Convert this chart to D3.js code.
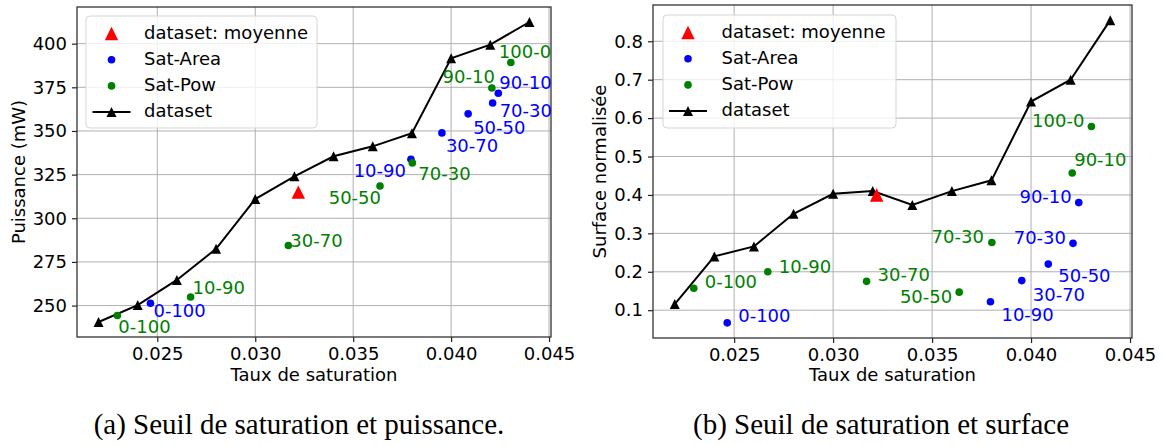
<!DOCTYPE html>
<html>
<head>
<meta charset="utf-8">
<script src="https://cdn.jsdelivr.net/npm/d3@7"></script>
<style>
  html, body { margin: 0; padding: 0; background: #fff; }
  svg { display: block; }
  text { font-family: "DejaVu Sans", sans-serif; }
  text.caption { font-family: "Liberation Serif", "Times New Roman", serif; }
</style>
</head>
<body>
<svg id="chart" width="1163" height="446"></svg>
<script>
// ---------------- DATA ----------------
const datasetX = [0.022, 0.024, 0.026, 0.028, 0.030, 0.032, 0.034, 0.036, 0.038, 0.040, 0.042, 0.044];
const datasetPower = [240.6, 250.3, 264.7, 282.5, 311.0, 324.0, 335.5, 341.2, 348.7, 391.6, 399.4, 412.4];
const datasetSurface = [0.116, 0.240, 0.266, 0.351, 0.403, 0.410, 0.374, 0.410, 0.438, 0.643, 0.700, 0.855];

const meanX = [0.0322];
const meanPower = [315.0];
const meanSurface = [0.400];

const satAreaLabels = ["0-100", "10-90", "30-70", "50-50", "70-30", "90-10"];
const satAreaX = [0.02465, 0.03795, 0.03953, 0.04087, 0.04212, 0.04241];
const satAreaPower = [251.3, 333.8, 348.9, 359.8, 366.0, 371.6];
const satAreaSurface = [0.067, 0.122, 0.177, 0.220, 0.274, 0.380];

const satPowLabels = ["0-100", "10-90", "30-70", "50-50", "70-30", "90-10", "100-0"];
const satPowX = [0.02296, 0.02670, 0.03169, 0.03637, 0.03802, 0.04208, 0.04305];
const satPowPower = [244.3, 254.9, 284.4, 318.5, 331.7, 374.6, 389.2];
const satPowSurface = [0.157, 0.200, 0.175, 0.147, 0.276, 0.457, 0.578];

const xTicks = [0.025, 0.030, 0.035, 0.040, 0.045];
const powerTicks = [250, 275, 300, 325, 350, 375, 400];
const surfaceTicks = [0.1, 0.2, 0.3, 0.4, 0.5, 0.6, 0.7, 0.8];

const legendLabels = ["dataset: moyenne", "Sat-Area", "Sat-Pow", "dataset"];

// label placement (pixel offsets, [dx, dy, anchor])
const powerAreaLabelPos = [[3, 14, "start"], [-5, 18, "end"], [4, 19, "start"], [5, 20, "start"], [7, 14, "start"], [1, -4, "start"]];
const powerPowLabelPos = [[1, 17, "start"], [2, -3, "start"], [2, 1, "start"], [1, 18, "end"], [6, 17, "start"], [3, -5, "end"], [-12, -5, "start"]];
const surfAreaLabelPos = [[11, -1, "start"], [11, 19, "start"], [11, 20, "start"], [10, 18, "start"], [-7, 1, "end"], [-7, 0, "end"]];
const surfPowLabelPos = [[11, 0, "start"], [11, 1, "start"], [11, 0, "start"], [-7, 11, "end"], [-8, 0, "end"], [2, -7, "start"], [-7, 0, "end"]];

// ---------------- DRAW ----------------
const svg = d3.select("#chart");
const FS = 18;
const BLUE = "#0000ff", GREEN = "#008000", RED = "#ff0000";

function tri(s) { return `M0,${-s}L${s},${s}L${-s},${s}Z`; }

function pad(vals) {
  const [a, b] = d3.extent(vals);
  const m = (b - a) * 0.05;
  return [a - m, b + m];
}

function panel(cfg) {
  const g = svg.append("g");
  const x = d3.scaleLinear().domain(pad([...datasetX, ...satAreaX, ...satPowX, ...meanX])).range([cfg.left, cfg.right]);
  const y = d3.scaleLinear().domain(pad([...cfg.ds, ...cfg.area, ...cfg.pow, ...cfg.mean])).range([cfg.bottom, cfg.top]);

  // grid
  g.append("g").selectAll("line").data(cfg.xt).join("line")
    .attr("x1", d => x(d)).attr("x2", d => x(d)).attr("y1", cfg.top).attr("y2", cfg.bottom)
    .attr("stroke", "#b0b0b0").attr("stroke-width", 1);
  g.append("g").selectAll("line").data(cfg.yt).join("line")
    .attr("y1", d => y(d)).attr("y2", d => y(d)).attr("x1", cfg.left).attr("x2", cfg.right)
    .attr("stroke", "#b0b0b0").attr("stroke-width", 1);

  // axes
  const xa = g.append("g").attr("transform", `translate(0,${cfg.bottom})`)
    .call(d3.axisBottom(x).tickValues(cfg.xt).tickFormat(d3.format(".3f")).tickSize(5).tickPadding(5));
  const ya = g.append("g").attr("transform", `translate(${cfg.left},0)`)
    .call(d3.axisLeft(y).tickValues(cfg.yt).tickFormat(cfg.yf).tickSize(5).tickPadding(5));
  [xa, ya].forEach(a => {
    a.select(".domain").remove();
    a.selectAll("line").attr("stroke", "#222").attr("stroke-width", 1.2);
    a.selectAll("text").attr("font-size", FS).attr("fill", "#000");
  });

  // frame
  g.append("rect").attr("x", cfg.left).attr("y", cfg.top)
    .attr("width", cfg.right - cfg.left).attr("height", cfg.bottom - cfg.top)
    .attr("fill", "none").attr("stroke", "#333").attr("stroke-width", 1.3);

  // axis labels
  g.append("text").attr("x", (cfg.left + cfg.right) / 2).attr("y", 381)
    .attr("text-anchor", "middle").attr("font-size", FS).text("Taux de saturation");
  g.append("text").attr("transform", `translate(${cfg.ylx},${(cfg.top + cfg.bottom) / 2}) rotate(-90)`)
    .attr("text-anchor", "middle").attr("font-size", FS).text(cfg.ylabel);

  // dataset line
  const pts = datasetX.map((d, i) => [d, cfg.ds[i]]);
  g.append("path").datum(pts)
    .attr("d", d3.line().x(d => x(d[0])).y(d => y(d[1])))
    .attr("fill", "none").attr("stroke", "#000").attr("stroke-width", 2);
  g.append("g").selectAll("path").data(pts).join("path")
    .attr("transform", d => `translate(${x(d[0])},${y(d[1])})`)
    .attr("d", tri(5)).attr("fill", "#000");

  // mean
  g.append("g").selectAll("path").data(meanX.map((d, i) => [d, cfg.mean[i]])).join("path")
    .attr("transform", d => `translate(${x(d[0])},${y(d[1])})`)
    .attr("d", tri(6.7)).attr("fill", RED);

  // sat-area / sat-pow
  const areaPts = satAreaX.map((d, i) => ({ x: d, y: cfg.area[i], l: satAreaLabels[i], p: cfg.areaPos[i] }));
  const powPts = satPowX.map((d, i) => ({ x: d, y: cfg.pow[i], l: satPowLabels[i], p: cfg.powPos[i] }));
  [[areaPts, BLUE], [powPts, GREEN]].forEach(([arr, col]) => {
    g.append("g").selectAll("circle").data(arr).join("circle")
      .attr("cx", d => x(d.x)).attr("cy", d => y(d.y)).attr("r", 3.8).attr("fill", col);
    g.append("g").selectAll("text").data(arr).join("text")
      .attr("x", d => x(d.x) + d.p[0]).attr("y", d => y(d.y) + d.p[1])
      .attr("text-anchor", d => d.p[2]).attr("font-size", FS).attr("fill", col).text(d => d.l);
  });

  // legend
  const L = cfg.legend;
  const lg = g.append("g");
  lg.append("rect").attr("x", L.x).attr("y", L.y).attr("width", L.w).attr("height", L.h)
    .attr("rx", 4).attr("fill", "#fff").attr("fill-opacity", 0.8).attr("stroke", "#d5d5d5").attr("stroke-width", 1);
  const rowY = i => L.y + 17.5 + i * 26.2;
  legendLabels.forEach((t, i) => {
    lg.append("text").attr("x", L.tx).attr("y", rowY(i) + 5).attr("font-size", FS).text(t);
  });
  lg.append("path").attr("transform", `translate(${L.mx},${rowY(0)})`).attr("d", tri(6.7)).attr("fill", RED);
  lg.append("circle").attr("cx", L.mx).attr("cy", rowY(1)).attr("r", 3.8).attr("fill", BLUE);
  lg.append("circle").attr("cx", L.mx).attr("cy", rowY(2)).attr("r", 3.8).attr("fill", GREEN);
  lg.append("line").attr("x1", L.mx - 19).attr("x2", L.mx + 19).attr("y1", rowY(3)).attr("y2", rowY(3))
    .attr("stroke", "#000").attr("stroke-width", 2);
  lg.append("path").attr("transform", `translate(${L.mx},${rowY(3)})`).attr("d", tri(5)).attr("fill", "#000");

  // caption
  svg.append("text").attr("class", "caption").attr("x", cfg.capX).attr("y", 434).attr("text-anchor", "middle")
    .attr("font-size", 29).text(cfg.caption);
}

panel({
  left: 77, right: 551, top: 7, bottom: 337,
  ds: datasetPower, area: satAreaPower, pow: satPowPower, mean: meanPower,
  xt: xTicks, yt: powerTicks, yf: d3.format("d"),
  ylabel: "Puissance (mW)", ylx: 25,
  areaPos: powerAreaLabelPos, powPos: powerPowLabelPos,
  legend: { x: 86, y: 16, w: 231, h: 112, mx: 111.5, tx: 144 },
  caption: "(a) Seuil de saturation et puissance.", capX: 299
});

panel({
  left: 653, right: 1132, top: 5, bottom: 338,
  ds: datasetSurface, area: satAreaSurface, pow: satPowSurface, mean: meanSurface,
  xt: xTicks, yt: surfaceTicks, yf: d3.format(".1f"),
  ylabel: "Surface normalisée", ylx: 606,
  areaPos: surfAreaLabelPos, powPos: surfPowLabelPos,
  legend: { x: 663, y: 15, w: 233, h: 113, mx: 688, tx: 721.5 },
  caption: "(b) Seuil de saturation et surface", capX: 881
});
</script>
</body>
</html>
